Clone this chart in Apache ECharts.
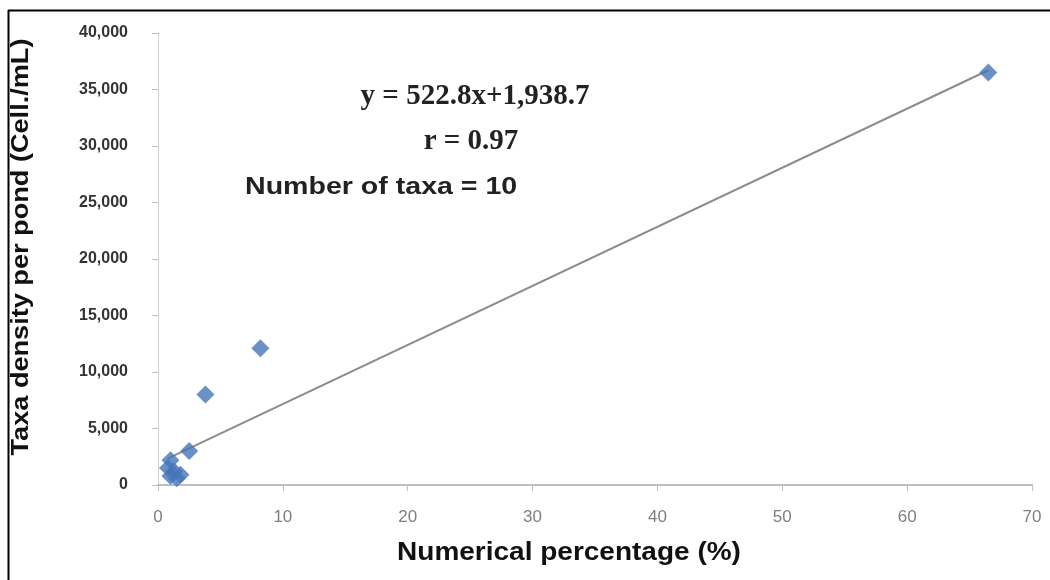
<!DOCTYPE html>
<html>
<head>
<meta charset="utf-8">
<script src="https://cdn.jsdelivr.net/npm/echarts@6/dist/echarts.min.js"></script>
<style>
html,body{margin:0;padding:0;background:#fff;}
#chart{width:1050px;height:580px;}
</style>
</head>
<body>
<div id="chart"></div>
<script>
// Data
const pctValues = [66.5, 8.2, 3.8, 2.5, 1.0, 0.8, 1.3, 1.8, 1.0, 1.5];
const densityValues = [36500, 12100, 8000, 3000, 2200, 1500, 1200, 900, 800, 600];
const slope = 522.8;
const intercept = 1938.7;
const xTicks = [0, 10, 20, 30, 40, 50, 60, 70];
const yTicks = [0, 5000, 10000, 15000, 20000, 25000, 30000, 35000, 40000];
const equationText = 'y = 522.8x+1,938.7';
const rText = 'r = 0.97';
const taxaText = 'Number of taxa = 10';
const xTitle = 'Numerical percentage (%)';
const yTitle = 'Taxa density per pond (Cell./mL)';

const points = pctValues.map((x, i) => [x, densityValues[i]]);
const xMin = Math.min(...pctValues), xMax = Math.max(...pctValues);
const trend = [[xMin, slope * xMin + intercept], [xMax, slope * xMax + intercept]];

const chart = echarts.init(document.getElementById('chart'));
chart.setOption({
  animation: false,
  backgroundColor: '#fff',
  grid: {left: 158, right: 18, top: 33, bottom: 95},
  xAxis: {
    type: 'value', min: xTicks[0], max: xTicks[xTicks.length - 1], interval: 10,
    axisLine: {show: true, lineStyle: {color: '#bfbfbf', width: 2}},
    axisTick: {show: true, length: 6, lineStyle: {color: '#bfbfbf'}},
    splitLine: {show: false},
    axisLabel: {color: '#7f7f7f', fontSize: 17, fontFamily: 'Liberation Sans, Arial, sans-serif', margin: 24},
    name: ''
  },
  yAxis: {
    type: 'value', min: yTicks[0], max: yTicks[yTicks.length - 1], interval: 5000,
    axisLine: {show: true, lineStyle: {color: '#d0d0d0', width: 1}},
    axisTick: {show: true, length: 6, lineStyle: {color: '#bfbfbf'}},
    splitLine: {show: false},
    axisLabel: {color: '#333', fontSize: 16, fontWeight: 'bold', fontFamily: 'Liberation Sans, Arial, sans-serif', margin: 30,
      formatter: v => v.toLocaleString('en-US')},
    name: ''
  },
  series: [
    {
      type: 'line', data: trend, symbol: 'none', z: 1,
      lineStyle: {color: '#8c8c8c', width: 2}
    },
    {
      type: 'scatter', data: points, symbol: 'diamond', symbolSize: 18, z: 3,
      itemStyle: {color: '#4576b9'}
    }
  ],
  graphic: [
    {type: 'line', shape: {x1: 8.5, y1: 10, x2: 8.5, y2: 580}, style: {stroke: '#000', lineWidth: 2}},
    {type: 'line', shape: {x1: 8, y1: 10.5, x2: 1050, y2: 10.5}, style: {stroke: '#000', lineWidth: 2}},
    {type: 'text', x: 475, y: 97, style: {text: equationText, font: 'bold 29px "Liberation Serif", "Times New Roman", serif', fill: '#222', align: 'center', verticalAlign: 'middle'}},
    {type: 'text', x: 471, y: 142, style: {text: rText, font: 'bold 29px "Liberation Serif", "Times New Roman", serif', fill: '#222', align: 'center', verticalAlign: 'middle'}},
    {type: 'text', x: 245, y: 187, scaleX: 1.19, style: {text: taxaText, font: 'bold 24px "Liberation Sans", Arial, sans-serif', fill: '#222', align: 'left', verticalAlign: 'middle'}},
    {type: 'text', x: 569, y: 553, scaleX: 1.12, style: {text: xTitle, font: 'bold 25px "Liberation Sans", Arial, sans-serif', fill: '#111', align: 'center', verticalAlign: 'middle'}},
    {type: 'text', x: 21, y: 247, rotation: Math.PI / 2, scaleX: 1.13, style: {text: yTitle, font: 'bold 24px "Liberation Sans", Arial, sans-serif', fill: '#111', align: 'center', verticalAlign: 'middle'}}
  ]
});
</script>
</body>
</html>
